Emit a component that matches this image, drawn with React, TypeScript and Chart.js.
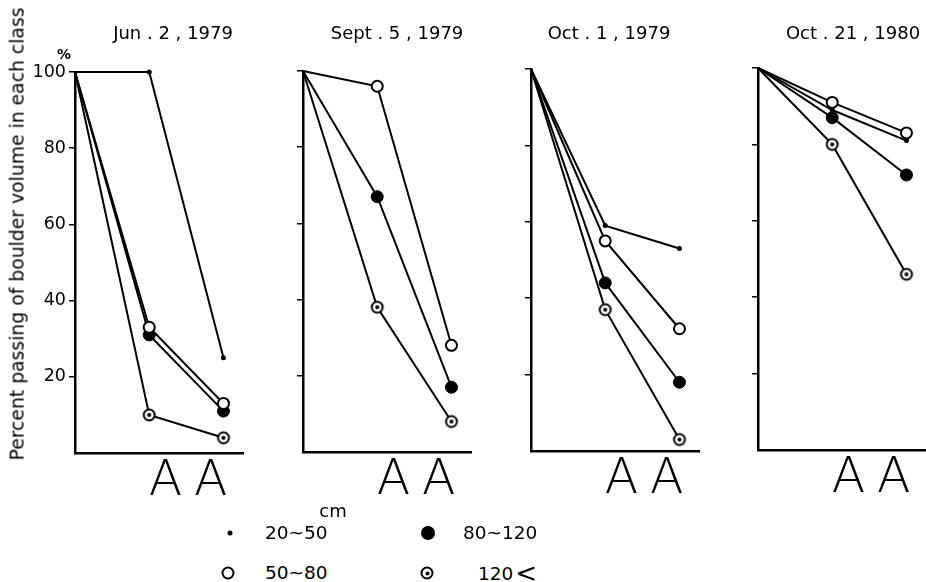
import { useEffect, useRef } from 'react';
import { Chart, registerables } from 'chart.js';

Chart.register(...registerables);

// ---- data -------------------------------------------------------------
const panelTitles = ['Jun . 2 , 1979', 'Sept . 5 , 1979', 'Oct . 1 , 1979', 'Oct . 21 , 1980'];
const stations = [0, 1, 2];
const damTicks = [1.22, 1.83];
const damLabel = 'A';
const yTicks = [20, 40, 60, 80, 100];
const yTitle = 'Percent passing of boulder volume in each class';
const yUnit = '%';
const sizeUnit = 'cm';
const classLabels = ['20~50', '50~80', '80~120', '120'];

// percent passing per size class, one triple per date (null = not measured)
const passing20to50: (number[] | null)[] = [[100, 100, 25], null, [100, 59, 53], [100, 89, 81]];
const passing50to80: number[][] = [[100, 33, 13], [100, 96, 28], [100, 55, 32], [100, 91, 83]];
const passing80to120: number[][] = [[100, 31, 11], [100, 67, 17], [100, 44, 18], [100, 87, 72]];
const passing120up: number[][] = [[100, 10, 4], [100, 38, 8], [100, 37, 3], [100, 80, 46]];

// ---- layout ---------------------------------------------------------------
const ink = '#000';
const fontFamily = '"DejaVu Sans", "Noto Sans", sans-serif';
const plotWidth = 172;
const xMax = plotWidth / 76;
const xAxisHeight = 60;
const panelFrames = [
  { axisX: 75, top: 72, bottom: 453, titleX: 173 },
  { axisX: 303, top: 71, bottom: 452, titleX: 397 },
  { axisX: 531, top: 69, bottom: 451, titleX: 609 },
  { axisX: 758, top: 68, bottom: 450, titleX: 853 },
];

function makeRingMarker(): HTMLCanvasElement {
  const c = document.createElement('canvas');
  c.width = 16;
  c.height = 16;
  const ctx = c.getContext('2d')!;
  ctx.beginPath();
  ctx.arc(8, 8, 5.5, 0, Math.PI * 2);
  ctx.fillStyle = '#fff';
  ctx.fill();
  ctx.lineWidth = 2;
  ctx.strokeStyle = ink;
  ctx.stroke();
  ctx.beginPath();
  ctx.arc(8, 8, 2, 0, Math.PI * 2);
  ctx.fillStyle = ink;
  ctx.fill();
  return c;
}

function Panel({ index }: { index: number }) {
  const ref = useRef<HTMLCanvasElement | null>(null);
  const frame = panelFrames[index];
  const left = index === 0 ? 0 : frame.axisX - 12;
  const yAxisWidth = frame.axisX - left;
  const width = yAxisWidth + plotWidth + 4;
  const height = frame.bottom + xAxisHeight;

  useEffect(() => {
    const ring = makeRingMarker();
    const toPoints = (vals: number[]) => vals.map((v, k) => ({ x: stations[k], y: v }));
    const series: any[] = [];
    const small = passing20to50[index];
    if (small) {
      series.push({
        label: classLabels[0],
        data: toPoints(small),
        pointStyle: 'circle',
        pointRadius: [0, 2.5, 2.5],
        pointBackgroundColor: ink,
        pointBorderColor: ink,
        pointBorderWidth: 0,
      });
    }
    series.push({
      label: classLabels[1],
      data: toPoints(passing50to80[index]),
      pointStyle: 'circle',
      pointRadius: [0, 5.5, 5.5],
      pointBackgroundColor: '#fff',
      pointBorderColor: ink,
      pointBorderWidth: 2,
    });
    series.push({
      label: classLabels[2],
      data: toPoints(passing80to120[index]),
      pointStyle: 'circle',
      pointRadius: [0, 6, 6],
      pointBackgroundColor: ink,
      pointBorderColor: ink,
      pointBorderWidth: 1,
    });
    series.push({
      label: classLabels[3] + '<',
      data: toPoints(passing120up[index]),
      pointStyle: ring,
      pointRadius: [0, 6, 6],
    });
    const datasets = series.map((s) => ({
      ...s,
      borderColor: ink,
      borderWidth: 2,
      fill: false,
      tension: 0,
      clip: false,
    }));

    const chart = new Chart(ref.current!, {
      type: 'line',
      data: { datasets },
      options: {
        animation: false,
        responsive: false,
        maintainAspectRatio: false,
        devicePixelRatio: 1,
        events: [],
        layout: { padding: { top: frame.top, right: 4, left: 0, bottom: 0 } },
        plugins: {
          legend: { display: false },
          title: { display: false },
          tooltip: { enabled: false },
        },
        scales: {
          x: {
            type: 'linear',
            min: 0,
            max: xMax,
            grid: { display: false, drawTicks: false },
            border: { display: true, color: ink, width: 2.5 },
            afterBuildTicks: (s: any) => {
              s.ticks = damTicks.map((v) => ({ value: v }));
            },
            afterFit: (s: any) => {
              s.height = xAxisHeight;
            },
            ticks: {
              autoSkip: false,
              maxRotation: 0,
              padding: 0,
              color: ink,
              font: { family: fontFamily, size: 49, weight: '200' },
              callback: () => damLabel,
            },
          },
          y: {
            type: 'linear',
            min: 0,
            max: 100,
            afterBuildTicks: (s: any) => {
              s.ticks = yTicks.map((v) => ({ value: v }));
            },
            afterFit: (s: any) => {
              s.width = yAxisWidth;
            },
            grid: {
              display: true,
              drawOnChartArea: false,
              drawTicks: true,
              tickLength: 6,
              color: ink,
              lineWidth: 1.5,
            },
            border: { display: true, color: ink, width: 2.5 },
            ticks: {
              display: index === 0,
              padding: 3,
              color: ink,
              font: { family: fontFamily, size: 17.5 },
              callback: (v: any) => String(v),
            },
          },
        },
      } as any,
    });
    return () => chart.destroy();
  }, [index]);

  return (
    <canvas
      ref={ref}
      width={width}
      height={height}
      style={{ position: 'absolute', left, top: 0, width, height }}
    />
  );
}

const textBase: React.CSSProperties = {
  position: 'absolute',
  fontFamily,
  color: ink,
  whiteSpace: 'nowrap',
  lineHeight: 1,
  transform: 'translate(-50%, -50%)',
};

function Marker({ kind, x, y }: { kind: number; x: number; y: number }) {
  const base: React.CSSProperties = {
    position: 'absolute',
    left: x,
    top: y,
    transform: 'translate(-50%, -50%)',
    borderRadius: '50%',
    boxSizing: 'border-box',
  };
  if (kind === 0) return <div style={{ ...base, width: 5, height: 5, background: ink }} />;
  if (kind === 1)
    return <div style={{ ...base, width: 13, height: 13, border: `2px solid ${ink}`, background: '#fff' }} />;
  if (kind === 2) return <div style={{ ...base, width: 14, height: 14, background: ink }} />;
  return (
    <div style={{ ...base, width: 13, height: 13, border: `2px solid ${ink}`, background: '#fff' }}>
      <div
        style={{
          position: 'absolute',
          left: '50%',
          top: '50%',
          width: 4,
          height: 4,
          borderRadius: '50%',
          background: ink,
          transform: 'translate(-50%, -50%)',
        }}
      />
    </div>
  );
}

export default function App() {
  const legendRows = [
    { kind: 0, mx: 230, tx: 265, y: 533 },
    { kind: 2, mx: 428, tx: 463, y: 533 },
    { kind: 1, mx: 228, tx: 265, y: 573 },
    { kind: 3, mx: 427, tx: 478, y: 573 },
  ];
  const kindLabel = (k: number) => classLabels[k];
  return (
    <div
      style={{
        position: 'fixed',
        left: 0,
        top: 0,
        width: 926,
        height: 582,
        overflow: 'hidden',
        background: '#fff',
      }}
    >
      {panelFrames.map((_, i) => (
        <Panel key={i} index={i} />
      ))}
      {panelFrames.map((f, i) => (
        <div key={'t' + i} style={{ ...textBase, left: f.titleX, top: 33, fontSize: 18 }}>
          {panelTitles[i]}
        </div>
      ))}
      <div
        style={{
          ...textBase,
          left: 18,
          top: 234,
          fontSize: 18.8,
          transform: 'translate(-50%, -50%) rotate(-90deg)',
        }}
      >
        {yTitle}
      </div>
      <div style={{ ...textBase, left: 64, top: 54, fontSize: 14, fontWeight: 'bold' }}>{yUnit}</div>
      <div style={{ ...textBase, left: 333, top: 511, fontSize: 18 }}>{sizeUnit}</div>
      {legendRows.map((r) => (
        <div key={'m' + r.kind}>
          <Marker kind={r.kind} x={r.mx} y={r.y} />
          <div style={{ ...textBase, left: r.tx, top: r.y, fontSize: 18.5, transform: 'translate(0, -50%)' }}>
            {kindLabel(r.kind)}
            {r.kind === 3 ? <span style={{ fontSize: 26, marginLeft: 2, verticalAlign: '-2px' }}>&lt;</span> : null}
          </div>
        </div>
      ))}
    </div>
  );
}
